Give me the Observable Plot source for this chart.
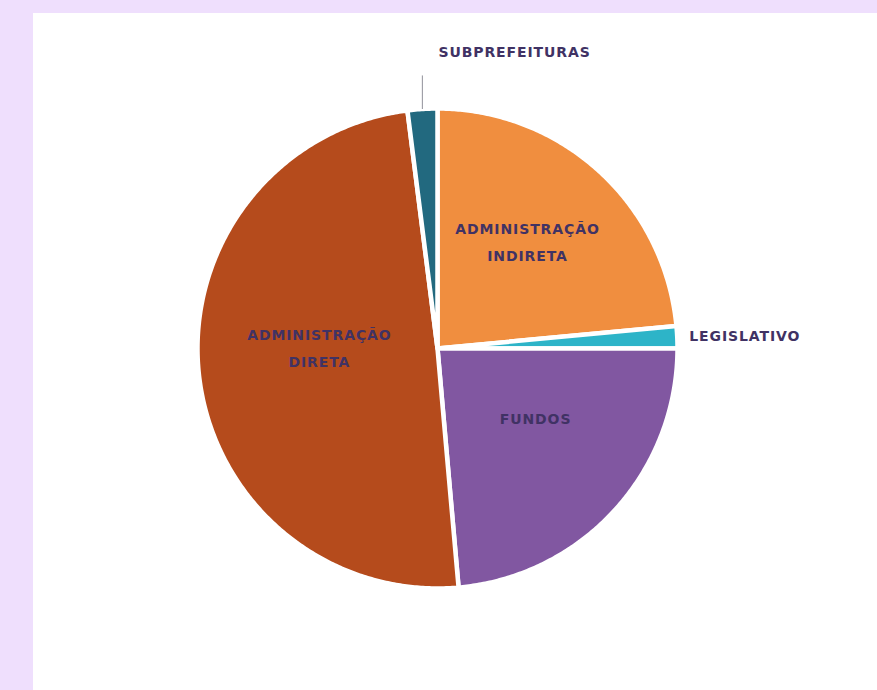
<!DOCTYPE html>
<html>
<head>
<meta charset="utf-8">
<script src="https://cdn.jsdelivr.net/npm/d3@7"></script>
<script src="https://cdn.jsdelivr.net/npm/@observablehq/plot@0.6"></script>
<style>
  html, body { margin: 0; padding: 0; background: #efdffd; width: 877px; height: 690px; overflow: hidden; }
  #chart { position: absolute; left: 33px; top: 13px; background: #ffffff; }
</style>
</head>
<body>
<div id="chart"></div>
<script>
// Data (percent of total, clockwise from 12 o'clock)
const categories = ["Administração Indireta", "Legislativo", "Fundos", "Administração Direta", "Subprefeituras"];
const values = [23.5, 1.5, 23.6, 49.4, 2.0];
const labels = ["ADMINISTRAÇÃO\nINDIRETA", "LEGISLATIVO", "FUNDOS", "ADMINISTRAÇÃO\nDIRETA", "SUBPREFEITURAS"];
const colors = ["#f08e3f", "#2db4c8", "#8157a1", "#b54b1c", "#22697f"];

const data = categories.map((c, i) => ({category: c, value: values[i], label: labels[i]}));
const arcs = d3.pie().sort(null).value(d => d.value)(data);

// polygon points per slice in unit coordinates (angle clockwise from top)
const pts = [];
for (const a of arcs) {
  const c = a.data.category;
  pts.push({category: c, x: 0, y: 0});
  const n = Math.max(4, Math.ceil((a.endAngle - a.startAngle) / (Math.PI / 360)));
  for (let k = 0; k <= n; k++) {
    const t = a.startAngle + (a.endAngle - a.startAngle) * k / n;
    pts.push({category: c, x: Math.sin(t), y: Math.cos(t)});
  }
  pts.push({category: c, x: 0, y: 0});
}

const mid = a => (a.startAngle + a.endAngle) / 2;
const inside = arcs.filter(a => a.data.value > 5).map(a => ({
  label: a.data.label, x: Math.sin(mid(a)) * 0.52, y: Math.cos(mid(a)) * 0.52
}));
const leg = arcs.filter(a => a.data.category === "Legislativo").map(a => ({
  label: a.data.label, x: Math.sin(mid(a)) * 1.05, y: Math.cos(mid(a)) * 1.05
}));
const sub = arcs.filter(a => a.data.category === "Subprefeituras").map(a => ({
  label: a.data.label, x1: Math.sin(mid(a)) * 1.0, y1: Math.cos(mid(a)) * 1.0,
  x2: Math.sin(mid(a)) * 1.0, y2: Math.cos(mid(a)) * 1.14
}));

const textColor = "#403264";
const font = "'DejaVu Sans', sans-serif";

const plot = Plot.plot({
  width: 844,
  height: 677,
  margin: 0,
  x: {domain: [-1, 1], range: [164, 644], axis: null},
  y: {domain: [-1, 1], range: [575, 95], axis: null},
  color: {domain: categories, range: colors},
  style: {background: "#ffffff", fontFamily: font, letterSpacing: "0.9px"},
  marks: [
    Plot.line(pts, {x: "x", y: "y", z: "category", fill: "category", stroke: "#ffffff", strokeWidth: 4.5, strokeLinejoin: "round", curve: "linear"}),
    Plot.text(inside, {x: "x", y: "y", text: "label", fill: textColor, fontSize: 14, fontWeight: "bold", lineHeight: 1.9, dx: 6, dy: -17}),
    Plot.text(leg, {x: "x", y: "y", text: "label", fill: textColor, fontSize: 14, fontWeight: "bold", textAnchor: "start"}),
    Plot.link(sub, {x1: "x1", y1: "y1", x2: "x2", y2: "y2", stroke: "#a0a0a8", strokeWidth: 1.2}),
    Plot.text(sub, {x: "x2", y: "y2", text: "label", fill: textColor, fontSize: 14, fontWeight: "bold", textAnchor: "start", dx: 16, dy: -23})
  ]
});
document.getElementById("chart").appendChild(plot);
</script>
</body>
</html>
